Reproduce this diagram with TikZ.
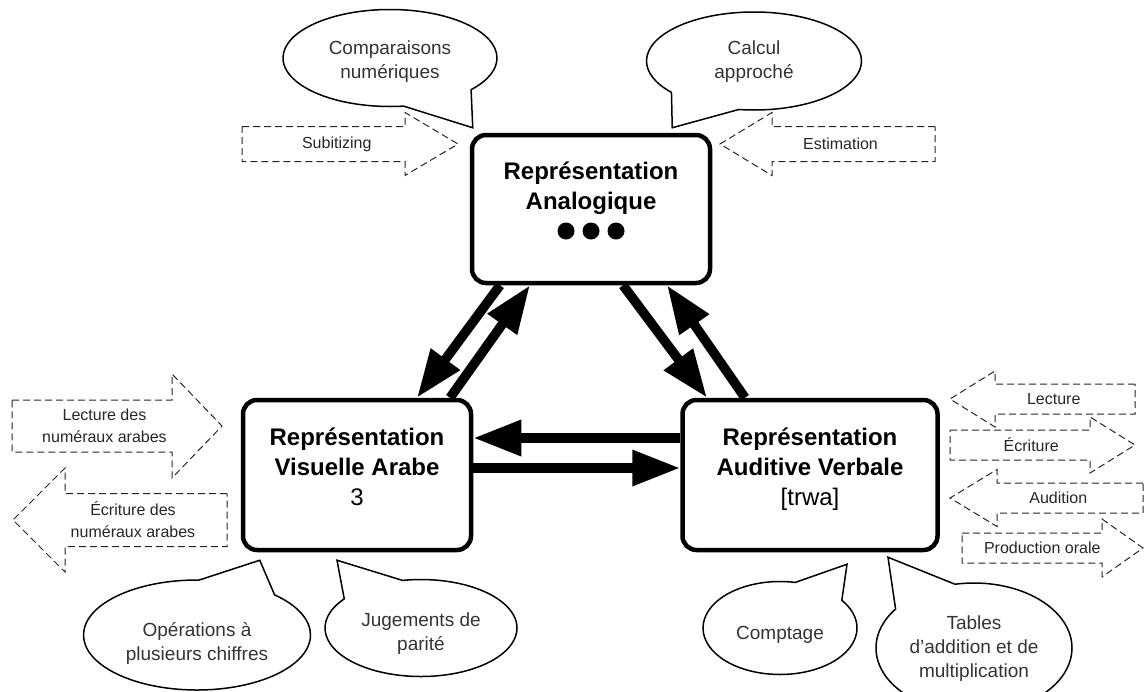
\documentclass[tikz,border=0pt]{standalone}
\usepackage{fontspec}
\setmainfont{Liberation Sans}
\usetikzlibrary{arrows.meta,shapes.callouts}

\newcommand{\flowarrow}[8]{%
  \draw [flow] (#2,{#5-#6}) -- (#3,{#5-#6}) -- (#3,{#5-#7}) -- (#4,#5) -- (#3,{#5+#7}) -- (#3,{#5+#6}) -- (#2,{#5+#6}) -- cycle;
  \node [flowtext] (#1) at ({(2*#2+#3+#4)/4},#5) {#8};}
\newcommand{\bubtext}[2]{\makebox[0pt]{\raisebox{#1}[0pt][0pt]{\begin{tabular}[t]{@{}c@{}}#2\end{tabular}}}}

\begin{document}
\begin{tikzpicture}[x=1pt,y=-1pt]
 	\tikzstyle{repbox}=[draw,line width=4.5pt,rounded corners=14pt,align=center,inner sep=0pt,font=\fontsize{24}{30}\selectfont]
 	\tikzstyle{bubble}=[ellipse callout,draw,line width=1.5pt,callout pointer arc=42,inner sep=0pt,text=black!80,font=\fontsize{19}{24}\selectfont]
 	\tikzstyle{flow}=[line width=1pt,dash pattern=on 7pt off 4pt,black!85]
 	\tikzstyle{flowtext}=[align=center,inner sep=0pt,text=black!85,font=\fontsize{16}{22}\selectfont]
 	\tikzstyle{link}=[line width=9.5pt,-{Triangle[length=48pt,width=34pt]}]
 	\useasboundingbox (0,0) rectangle (1145,691);
 	\node [repbox,minimum width=238pt,minimum height=148pt] (ana) at (591,209) {\textbf{Représentation}\\\textbf{Analogique}\rule[-47pt]{0pt}{0pt}};
 	\foreach \dx in {-25,0,25}
 	  \fill ([shift={(\dx,22)}]ana.center) circle (8.5);
 	\node [repbox,minimum width=228pt,minimum height=150pt] (vis) at (357,475) {\textbf{Représentation}\\\textbf{Visuelle Arabe}\\3\rule[-17pt]{0pt}{0pt}};
 	\node [repbox,minimum width=255pt,minimum height=150pt] (aud) at (810,475) {\textbf{Représentation}\\\textbf{Auditive Verbale}\\{[}trwa{]}\rule[-17pt]{0pt}{0pt}};
 	\draw [link] ([xshift=-91pt]ana.south) -- ([xshift=60pt]vis.north);
 	\draw [link] ([xshift=93pt]vis.north) -- ([xshift=-61pt]ana.south);
 	\draw [link] ([xshift=32pt]ana.south) -- ([xshift=-103pt]aud.north);
 	\draw [link] ([xshift=-65pt]aud.north) -- ([xshift=76pt]ana.south);
 	\draw [link] ([yshift=37pt]aud.west) -- ([yshift=37pt]vis.east);
 	\draw [link] ([yshift=7pt]vis.east) -- ([yshift=7pt]aud.west);
 	\node [bubble,minimum width=214pt,minimum height=97pt,callout absolute pointer={([shift={(3,-5)}]ana.north west)}] (comp) at (390,58) {\bubtext{3.7pt}{Comparaisons\\numériques}};
 	\node [bubble,minimum width=215pt,minimum height=98pt,callout absolute pointer={([shift={(-40,-5)}]ana.north east)}] (calc) at (754,61) {\bubtext{6.2pt}{Calcul\\approché}};
 	\node [bubble,minimum width=227pt,minimum height=110pt,callout absolute pointer={([shift={(19,8)}]vis.south west)}] (oper) at (197,635) {\bubtext{-1.8pt}{Opérations à\\plusieurs chiffres}};
 	\node [bubble,minimum width=192pt,minimum height=97pt,callout absolute pointer={([shift={(-20,8)}]vis.south)}] (jug) at (421,628) {\bubtext{1.2pt}{Jugements de\\parité}};
 	\node [bubble,minimum width=154pt,minimum height=93pt,callout absolute pointer={([shift={(37,12)}]aud.south)}] (compt) at (780,628) {\bubtext{-11.8pt}{Comptage}};
 	\node [bubble,minimum width=196pt,minimum height=130pt,callout absolute pointer={([shift={(78,5)}]aud.south)}] (tabl) at (974,648) {\bubtext{18.2pt}{Tables\\d'addition et de\\multiplication}};
 	\flowarrow{subit}{242}{405}{458}{144}{17.5}{31.5}{Subitizing}
 	\flowarrow{estim}{935}{772}{720}{144}{17.5}{31.5}{Estimation}
 	\flowarrow{lecnum}{12}{172}{222}{426}{26}{52}{Lecture des\\numéraux arabes}
 	\flowarrow{ecrnum}{227}{65}{13}{520}{26.5}{52}{Écriture des\\numéraux arabes}
 	\flowarrow{lect}{1135}{995}{950}{399}{15}{28}{Lecture}
 	\flowarrow{ecr}{950}{1090}{1135}{445}{15}{28}{Écriture}
 	\flowarrow{audi}{1143}{997}{950}{498}{15}{28.5}{Audition}
 	\flowarrow{prod}{962}{1102}{1143}{548}{15}{29}{Production orale}
\end{tikzpicture}
\end{document}
